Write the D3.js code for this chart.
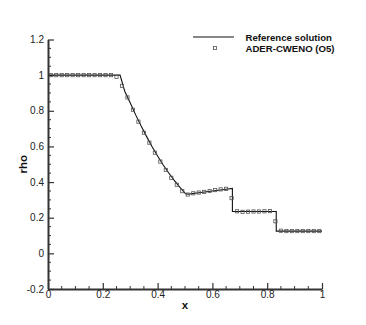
<!DOCTYPE html>
<html><head><meta charset="utf-8">
<script src="https://cdn.jsdelivr.net/npm/d3@7"></script>
<style>body{margin:0;background:#fff}svg{display:block}text{font-family:"Liberation Sans",Arial,sans-serif}</style>
</head><body>
<script>
// Reference solution
const refX   = [0, 0.263, 0.28, 0.30, 0.32, 0.34, 0.36, 0.38, 0.40, 0.42, 0.44, 0.46, 0.48, 0.50, 0.505, 0.52, 0.55, 0.60, 0.65, 0.673, 0.673, 0.833, 0.833, 1.0];
const refRho = [1, 1, 0.91, 0.845, 0.777, 0.714, 0.655, 0.598, 0.546, 0.497, 0.452, 0.411, 0.373, 0.338, 0.332, 0.334, 0.340, 0.350, 0.360, 0.364, 0.235, 0.235, 0.125, 0.125];
// ADER-CWENO (O5) samples
const numX = [0.01,0.03,0.05,0.07,0.09,0.11,0.13,0.15,0.17,0.19,0.21,0.23,0.25,0.27,0.29,0.31,0.33,0.35,0.37,0.39,0.41,0.43,0.45,0.47,0.49,0.51,0.53,0.55,0.57,0.59,0.61,0.63,0.65,0.67,0.69,0.71,0.73,0.75,0.77,0.79,0.81,0.83,0.85,0.87,0.89,0.91,0.93,0.95,0.97,0.99];
const numRho = [1,1,1,1,1,1,1,1,1,1,1,1,0.99,0.94,0.875,0.806,0.739,0.677,0.621,0.565,0.515,0.468,0.424,0.385,0.349,0.33,0.337,0.341,0.345,0.35,0.355,0.359,0.362,0.31,0.236,0.233,0.234,0.235,0.235,0.236,0.237,0.18,0.127,0.125,0.125,0.125,0.125,0.125,0.125,0.125];
const xTicks = [0, 0.2, 0.4, 0.6, 0.8, 1];
const xTickLabels = ["0", "0.2", "0.4", "0.6", "0.8", "1"];
const yTicks = [-0.2, 0, 0.2, 0.4, 0.6, 0.8, 1, 1.2];
const yTickLabels = ["-0.2", "0", "0.2", "0.4", "0.6", "0.8", "1", "1.2"];
const legendLabels = ["Reference solution", "ADER-CWENO (O5)"];

const W = 366, H = 325;
const svg = d3.select("body").append("svg").attr("width", W).attr("height", H);
const x = d3.scaleLinear().domain([0, 1]).range([48, 322]);
const y = d3.scaleLinear().domain([-0.2, 1.2]).range([289, 39.5]);

const axisColor = "#333";
// Minor ticks
const minorX = d3.range(0, 1.0001, 0.05).filter(v => !xTicks.some(t => Math.abs(t - v) < 1e-6));
const minorY = d3.range(-0.2, 1.2001, 0.05).filter(v => !yTicks.some(t => Math.abs(t - v) < 1e-6));

const gx = svg.append("g").attr("transform", `translate(0,${y(-0.2)})`);
gx.call(d3.axisBottom(x).tickValues(xTicks).tickFormat((d, i) => xTickLabels[i]).tickSizeInner(-6).tickSizeOuter(0).tickPadding(2));
gx.append("g").selectAll("line").data(minorX).join("line")
  .attr("x1", d => x(d)).attr("x2", d => x(d)).attr("y1", 0).attr("y2", -3)
  .attr("stroke", axisColor).attr("stroke-width", 1);

const gy = svg.append("g").attr("transform", `translate(${x(0)},0)`);
gy.call(d3.axisLeft(y).tickValues(yTicks).tickFormat((d, i) => yTickLabels[i]).tickSizeInner(-6).tickSizeOuter(0).tickPadding(4));
gy.append("g").selectAll("line").data(minorY).join("line")
  .attr("y1", d => y(d)).attr("y2", d => y(d)).attr("x1", 0).attr("x2", 3)
  .attr("stroke", axisColor).attr("stroke-width", 1);

[gx, gy].forEach(g => {
  g.select(".domain").attr("stroke", axisColor).attr("stroke-width", 2);
  g.selectAll(".tick line").attr("stroke", axisColor).attr("stroke-width", 1.2);
  g.selectAll(".tick text").attr("font-size", 10).attr("fill", "#222").attr("font-family", "Liberation Sans, Arial, sans-serif");
});

// Reference line
const refData = refX.map((v, i) => [v, refRho[i]]);
svg.append("path").datum(refData)
  .attr("d", d3.line().x(d => x(d[0])).y(d => y(d[1])))
  .attr("fill", "none").attr("stroke", "#111").attr("stroke-width", 1.1);

// Markers
const ms = 3.2;
svg.append("g").selectAll("rect").data(numX.map((v, i) => [v, numRho[i]])).join("rect")
  .attr("x", d => x(d[0]) - ms / 2).attr("y", d => y(d[1]) - ms / 2)
  .attr("width", ms).attr("height", ms)
  .attr("fill", "none").attr("stroke", "#555").attr("stroke-width", 0.8);

// Axis titles
svg.append("text").attr("x", x(0.5)).attr("y", 309).attr("text-anchor", "middle")
  .attr("font-size", 11.5).attr("font-weight", "bold").attr("fill", "#111").text("x");
svg.append("text").attr("transform", `translate(27,${y(0.5)}) rotate(-90)`).attr("text-anchor", "middle")
  .attr("font-size", 11.5).attr("font-weight", "bold").attr("fill", "#111").text("rho");

// Legend
const lg = svg.append("g");
lg.append("line").attr("x1", 193).attr("x2", 234).attr("y1", 37).attr("y2", 37).attr("stroke", "#111").attr("stroke-width", 1.1);
lg.append("rect").attr("x", 215 - ms / 2).attr("y", 48 - ms / 2).attr("width", ms).attr("height", ms)
  .attr("fill", "none").attr("stroke", "#555").attr("stroke-width", 0.8);
lg.selectAll("text").data(legendLabels).join("text")
  .attr("x", 245.5).attr("y", (d, i) => 40.5 + i * 11)
  .attr("font-size", 9.6).attr("font-weight", "bold").attr("fill", "#111").text(d => d);
</script>
</body></html>
